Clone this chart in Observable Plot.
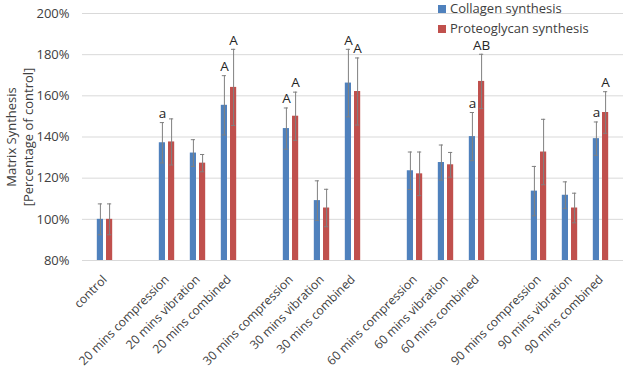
<!DOCTYPE html>
<html><head><meta charset="utf-8">
<script src="https://cdn.jsdelivr.net/npm/d3@7"></script>
<script src="https://cdn.jsdelivr.net/npm/@observablehq/plot@0.6"></script>
<style>
body{margin:0;background:#fff;font-family:"Open Sans",sans-serif;}
#chart{position:relative;width:623px;height:368px;}
#legend{position:absolute;left:438px;top:-2px;font-size:13px;color:#404040;line-height:20px;}
#legend .sw{display:inline-block;width:8px;height:8px;margin-right:4px;vertical-align:0px;}
</style></head><body><div id="chart"></div>
<script>
const categories = ["control","20 mins compression","20 mins vibration","20 mins combined","30 mins compression","30 mins vibration","30 mins combined","60 mins compression","60 mins vibration","60 mins combined","90 mins compression","90 mins vibration","90 mins combined"];
const collagen = [100,137.2,132.2,155.4,144.1,109.1,166.2,123.6,127.6,140.2,113.7,111.7,139.2];
const collagenErr = [7.5,9.8,6.5,14.4,10,9.6,16.4,9.1,8.5,11.7,12,6.5,8.1];
const proteoglycan = [100,137.6,127.3,164.1,150.1,105.5,162.1,122.1,126.5,167.0,132.7,105.5,151.9];
const proteoglycanErr = [7.5,11.2,4.2,18.5,11.7,9.1,16.3,10.6,6,13.2,15.9,7.2,10.1];
const collagenLetters = ["","a","","A","A","","A","","","a","","","a"];
const proteoglycanLetters = ["","","","A","A","","A","","","AB","","","A"];
const seriesNames = ["Collagen synthesis","Proteoglycan synthesis"];
const yTicks = [80,100,120,140,160,180,200];
const groupStarts = ["20 mins compression","30 mins compression","60 mins compression","90 mins compression"];
const yTitle = "Matrix Synthesis\n[Percentage of control]";

const colors = ["#4F81BD","#C0504D"];
const W = 623, H = 368, mL = 82, mR = 0, mT = 13, mB = 108;

const domain = [];
let g = 0;
for (const c of categories) { if (groupStarts.includes(c)) domain.push("gap" + (g++)); domain.push(c); }
const bw = (W - mL - mR) / domain.length;
const barW = 7, capW = 5, off = 4.6;

const rows = [];
categories.forEach((c, i) => {
  rows.push({cat: c, s: 0, v: collagen[i], e: collagenErr[i], t: collagenLetters[i]});
  rows.push({cat: c, s: 1, v: proteoglycan[i], e: proteoglycanErr[i], t: proteoglycanLetters[i]});
});

const marks = [
  Plot.gridY(yTicks, {stroke: "#d9d9d9", strokeOpacity: 1}),
];
[0,1].forEach(s => {
  const d = rows.filter(r => r.s === s);
  const dx = s === 0 ? -off : off;
  marks.push(
    Plot.barY(d, {x: "cat", y1: yTicks[0], y2: "v", fill: colors[s], dx, insetLeft: (bw - barW)/2, insetRight: (bw - barW)/2}),
    Plot.ruleX(d, {x: "cat", y1: r => r.v - r.e, y2: r => r.v + r.e, dx, stroke: "#808080", strokeWidth: 1}),
    Plot.tickY(d, {x: "cat", y: r => r.v + r.e, dx, stroke: "#808080", insetLeft: (bw - capW)/2, insetRight: (bw - capW)/2}),
    Plot.tickY(d, {x: "cat", y: r => r.v - r.e, dx, stroke: "#808080", insetLeft: (bw - capW)/2, insetRight: (bw - capW)/2}),
    Plot.text(d.filter(r => r.t), {x: "cat", y: r => r.v + r.e, text: "t", dx, dy: -9, fontSize: 13.5, fill: "#262626"})
  );
});
marks.push(
  Plot.axisY({ticks: yTicks, tickFormat: d => d + "%", tickSize: 0, tickPadding: 13, fontSize: 13, label: null, color: "#404040"}),
  Plot.axisX({tickRotate: -45, tickSize: 0, tickPadding: 17, fontSize: 12.2, label: null, tickFormat: d => d.startsWith("gap") ? "" : d, color: "#404040"}),
  Plot.text([yTitle], {frameAnchor: "left", textAnchor: "middle", rotate: -90, dx: -63, fontSize: 13, lineHeight: 1.3, fill: "#404040"})
);

const chart = Plot.plot({
  width: W, height: H, marginLeft: mL, marginRight: mR, marginTop: mT, marginBottom: mB,
  style: {fontFamily: "Open Sans, sans-serif", fontSize: "13px", color: "#404040", background: "#fff"},
  x: {type: "band", domain, padding: 0, label: null},
  y: {domain: [yTicks[0], yTicks[yTicks.length-1]], label: null},
  marks
});
const el = document.getElementById("chart");
el.appendChild(chart);
const lg = document.createElement("div");
lg.id = "legend";
lg.innerHTML = seriesNames.map((n, i) => `<div><span class="sw" style="background:${colors[i]}"></span>${n}</div>`).join("");
el.appendChild(lg);
</script></body></html>
